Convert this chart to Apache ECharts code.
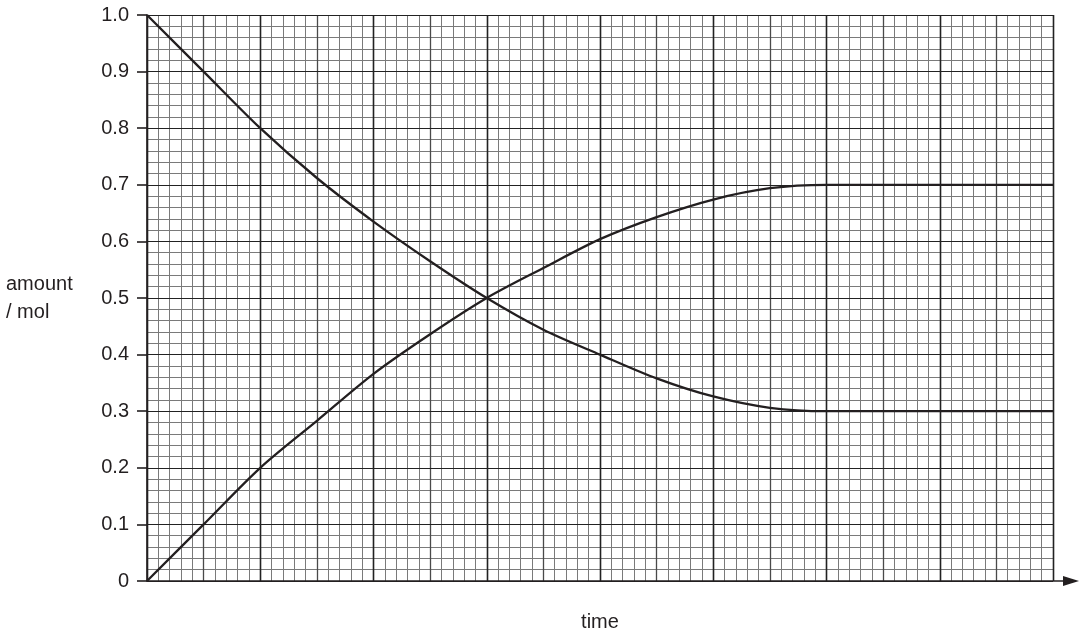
<!DOCTYPE html>
<html>
<head>
<meta charset="utf-8">
<script src="https://cdn.jsdelivr.net/npm/echarts@6/dist/echarts.min.js"></script>
<style>
html,body{margin:0;padding:0;background:#fff;}
#chart{width:1084px;height:639px;}
</style>
</head>
<body>
<div id="chart"></div>
<script>
// time values (major grid units)
var times = [0, 0.5, 1, 1.5, 2, 2.5, 3, 3.5, 4, 4.5, 5, 5.5, 6, 7, 8];
// decreasing series (reactant)
var reactant = [1.0, 0.9, 0.8, 0.712, 0.635, 0.565, 0.5, 0.444, 0.4, 0.358, 0.326, 0.306, 0.3, 0.3, 0.3];
// increasing series (product)
var product  = [0.0, 0.1, 0.2, 0.283, 0.366, 0.436, 0.5, 0.553, 0.604, 0.643, 0.674, 0.694, 0.7, 0.7, 0.7];
var yTickLabels = ['0','0.1','0.2','0.3','0.4','0.5','0.6','0.7','0.8','0.9','1.0'];

function pairs(xs, ys){ return xs.map(function(x,i){ return [x, ys[i]]; }); }

var FONT = 'Liberation Sans, Arial, Helvetica, sans-serif';
var INK = '#231f20';
var gridRect = {left:147, right:31, top:15, bottom:58};

function hiddenX(idx, interval, color, width, z){
  return {type:'value', gridIndex:idx, min:0, max:8, interval:interval, z:z,
    axisLine:{show:false}, axisTick:{show:false}, axisLabel:{show:false},
    splitLine:{show:true, lineStyle:{color:color, width:width}}};
}
function hiddenY(idx, interval, color, width, z){
  return {type:'value', gridIndex:idx, min:0, max:1, interval:interval, z:z,
    axisLine:{show:false}, axisTick:{show:false}, axisLabel:{show:false},
    splitLine:{show:true, lineStyle:{color:color, width:width}}};
}

var chart = echarts.init(document.getElementById('chart'));
var xMain = hiddenX(2, 1, '#222', 1.4, 3);
xMain.name = 'time';
xMain.nameLocation = 'middle';
xMain.nameGap = 31;
xMain.nameTextStyle = {fontFamily:FONT, fontSize:20, color:INK};

var yMain = {type:'value', gridIndex:2, min:0, max:1, interval:0.1, z:3,
  name:'amount\n/ mol', nameLocation:'middle', nameRotate:0, nameGap:141,
  nameTextStyle:{fontFamily:FONT, fontSize:20, color:INK, align:'left', verticalAlign:'middle', lineHeight:28},
  axisLine:{show:true, lineStyle:{color:INK, width:1.6}},
  axisTick:{show:true, inside:false, length:10, lineStyle:{color:INK, width:1.6}},
  axisLabel:{show:true, margin:18, fontFamily:FONT, fontSize:20, color:INK,
    formatter:function(v){ return yTickLabels[Math.round(v*10)]; }},
  splitLine:{show:true, lineStyle:{color:'#222', width:1.2}}};

chart.setOption({
  animation:false,
  backgroundColor:'#fff',
  grid:[
    Object.assign({}, gridRect),
    Object.assign({}, gridRect),
    Object.assign({}, gridRect),
    {left:147, right:13, top:15, bottom:58}
  ],
  xAxis:[
    hiddenX(0, 0.1, '#7a7a7a', 1, 1),
    hiddenX(1, 0.5, '#4a4a4a', 1.3, 2),
    xMain,
    {type:'value', gridIndex:3, min:0, max:1, z:4,
      axisLine:{show:true, lineStyle:{color:INK, width:1.6}, symbol:['none','triangle'], symbolSize:[10,16]},
      axisTick:{show:false}, axisLabel:{show:false}, splitLine:{show:false}}
  ],
  yAxis:[
    hiddenY(0, 0.02, '#7a7a7a', 1, 1),
    hiddenY(1, 0.1, '#222', 1.2, 2),
    yMain,
    {type:'value', gridIndex:3, min:0, max:1, show:false, splitLine:{show:false}}
  ],
  series:[
    {type:'line', xAxisIndex:2, yAxisIndex:2, data:pairs(times, reactant), smooth:0.3,
      showSymbol:false, z:10, lineStyle:{color:INK, width:2.3}},
    {type:'line', xAxisIndex:2, yAxisIndex:2, data:pairs(times, product), smooth:0.3,
      showSymbol:false, z:10, lineStyle:{color:INK, width:2.3}}
  ]
});
</script>
</body>
</html>
